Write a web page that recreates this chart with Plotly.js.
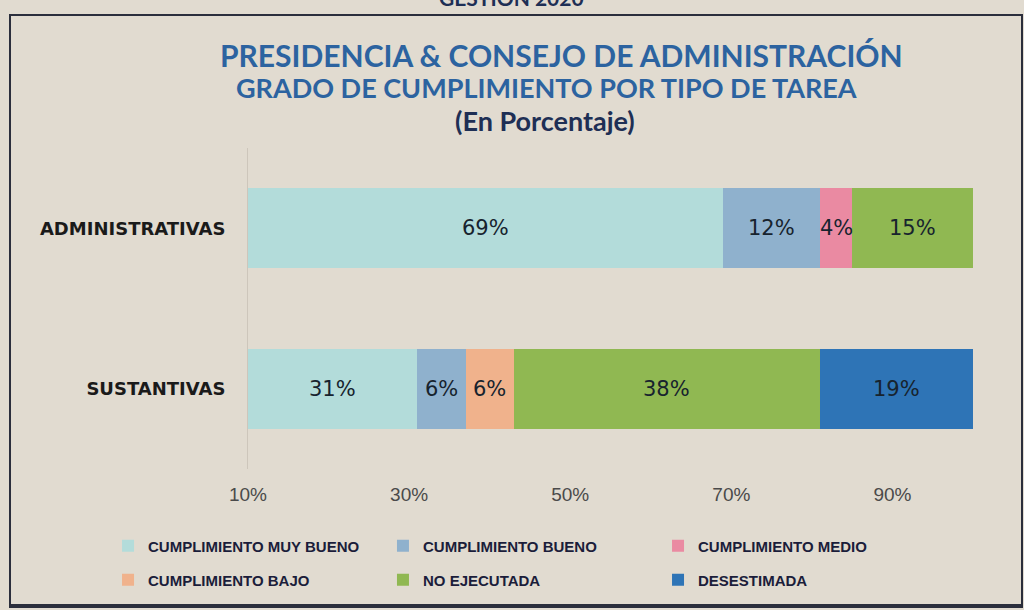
<!DOCTYPE html>
<html><head><meta charset="utf-8">
<script src="https://cdn.plot.ly/plotly-3.0.1.min.js"></script>
<style>
html,body{margin:0;padding:0;background:#e1dbd0;}
#wrap{position:relative;width:1024px;height:610px;overflow:hidden;}
#chart{width:1024px;height:610px;}
#frame{position:absolute;left:9px;top:14px;width:1010px;height:588px;border:2px solid #2b2e3c;border-bottom-width:4px;pointer-events:none;}
</style></head>
<body><div id="wrap"><div id="chart"></div><div id="frame"></div></div>
<script>
// ---- data ----
const categories = ['ADMINISTRATIVAS', 'SUSTANTIVAS'];
const seriesNames = ['CUMPLIMIENTO MUY BUENO', 'CUMPLIMIENTO BUENO', 'CUMPLIMIENTO MEDIO',
                     'CUMPLIMIENTO BAJO', 'NO EJECUTADA', 'DESESTIMADA'];
const muyBueno    = [69, 31];
const bueno       = [12, 6];
const medio       = [4, 0];
const bajo        = [0, 6];
const noEjecutada = [15, 38];
const desestimada = [0, 19];
const tickValues  = [10, 30, 50, 70, 90];
const tickLabels  = ['10%', '30%', '50%', '70%', '90%'];
const titleLines  = ['PRESIDENCIA & CONSEJO DE ADMINISTRACIÓN', 'GRADO DE CUMPLIMIENTO POR TIPO DE TAREA', '(En Porcentaje)'];
const headerText  = 'GESTIÓN 2020';

// ---- styles ----
const colors = ['#b3dcda', '#8fb1cd', '#ea8aa2', '#f0b28c', '#90b852', '#2e74b6'];
const series = [muyBueno, bueno, medio, bajo, noEjecutada, desestimada];
const axisMin = 10, axisMax = 100;
const legendIds = ['legend', 'legend2', 'legend3', 'legend4', 'legend5', 'legend6'];
const legendX = [0.1055, 0.374, 0.6426];   // columns
const legendY = [0.105, 0.049];            // rows

const traces = series.map((vals, i) => ({
  type: 'bar', orientation: 'h',
  y: categories, x: vals,
  name: seriesNames[i],
  marker: {color: colors[i], line: {width: 0}},
  legend: legendIds[i],
  hoverinfo: 'skip'
}));

const annotations = [];
categories.forEach((cat, c) => {
  let start = 0;
  series.forEach(vals => {
    const v = vals[c];
    const end = start + v;
    if (v > 0) {
      const a = Math.max(start, axisMin);
      annotations.push({
        x: (a + end) / 2, y: cat, xref: 'x', yref: 'y',
        text: v + '%', showarrow: false,
        font: {family: 'DejaVu Sans, Verdana, sans-serif', size: 21, color: '#17232e'}
      });
    }
    start = end;
  });
});
const titleSizes = [30, 27, 27];
const titleColors = ['#2c63a0', '#2c63a0', '#1e2f55'];
const titleX = [0.4331, 0.4124, 0.4097];
const titleY = [1.29, 1.187, 1.087];
titleLines.forEach((t, i) => annotations.push({
  x: titleX[i], y: titleY[i], xref: 'paper', yref: 'paper', xanchor: 'center', yanchor: 'middle',
  text: '<b>' + t + '</b>', showarrow: false,
  font: {family: 'Lato, Open Sans, sans-serif', size: titleSizes[i], color: titleColors[i]}
}));
annotations.push({
  x: 0.364, y: 1.468, xref: 'paper', yref: 'paper', xanchor: 'center', yanchor: 'middle',
  text: '<b>' + headerText + '</b>', showarrow: false,
  font: {family: 'Lato, sans-serif', size: 21, color: '#1e2f55'}
});

const legendFont = {family: 'Liberation Sans Narrow, Liberation Sans, Arial, sans-serif', size: 15, color: '#1b1d3a', weight: 'bold'};
const layout = {
  width: 1024, height: 610,
  paper_bgcolor: '#e1dbd0', plot_bgcolor: '#e1dbd0',
  margin: {l: 248, r: 51, t: 148, b: 141},
  barmode: 'stack', bargap: 0.5,
  showlegend: true,
  xaxis: {
    range: [axisMin, axisMax], tickvals: tickValues, ticktext: tickLabels,
    showgrid: false, zeroline: false, showline: false, ticks: '',
    ticklabelstandoff: 12,
    tickfont: {family: 'Liberation Sans Narrow, Liberation Sans, sans-serif', size: 19, color: '#4a4a4a'}
  },
  yaxis: {
    type: 'category', range: [1.5, -0.5],
    showgrid: false, zeroline: false, showline: true, linecolor: '#cdc6bb', linewidth: 1,
    ticks: '', ticklabelstandoff: 18,
    tickfont: {family: 'DejaVu Sans, Verdana, sans-serif', size: 18, color: '#1a1a1a', weight: 'bold'}
  },
  annotations: annotations
};
legendIds.forEach((id, i) => {
  layout[id] = {
    orientation: 'h', xref: 'container', yref: 'container',
    x: legendX[i % 3], y: legendY[Math.floor(i / 3)], xanchor: 'left', yanchor: 'middle',
    itemwidth: 30, bgcolor: 'rgba(0,0,0,0)', font: legendFont
  };
});
Plotly.newPlot('chart', traces, layout, {displayModeBar: false, staticPlot: true});
</script></body></html>
